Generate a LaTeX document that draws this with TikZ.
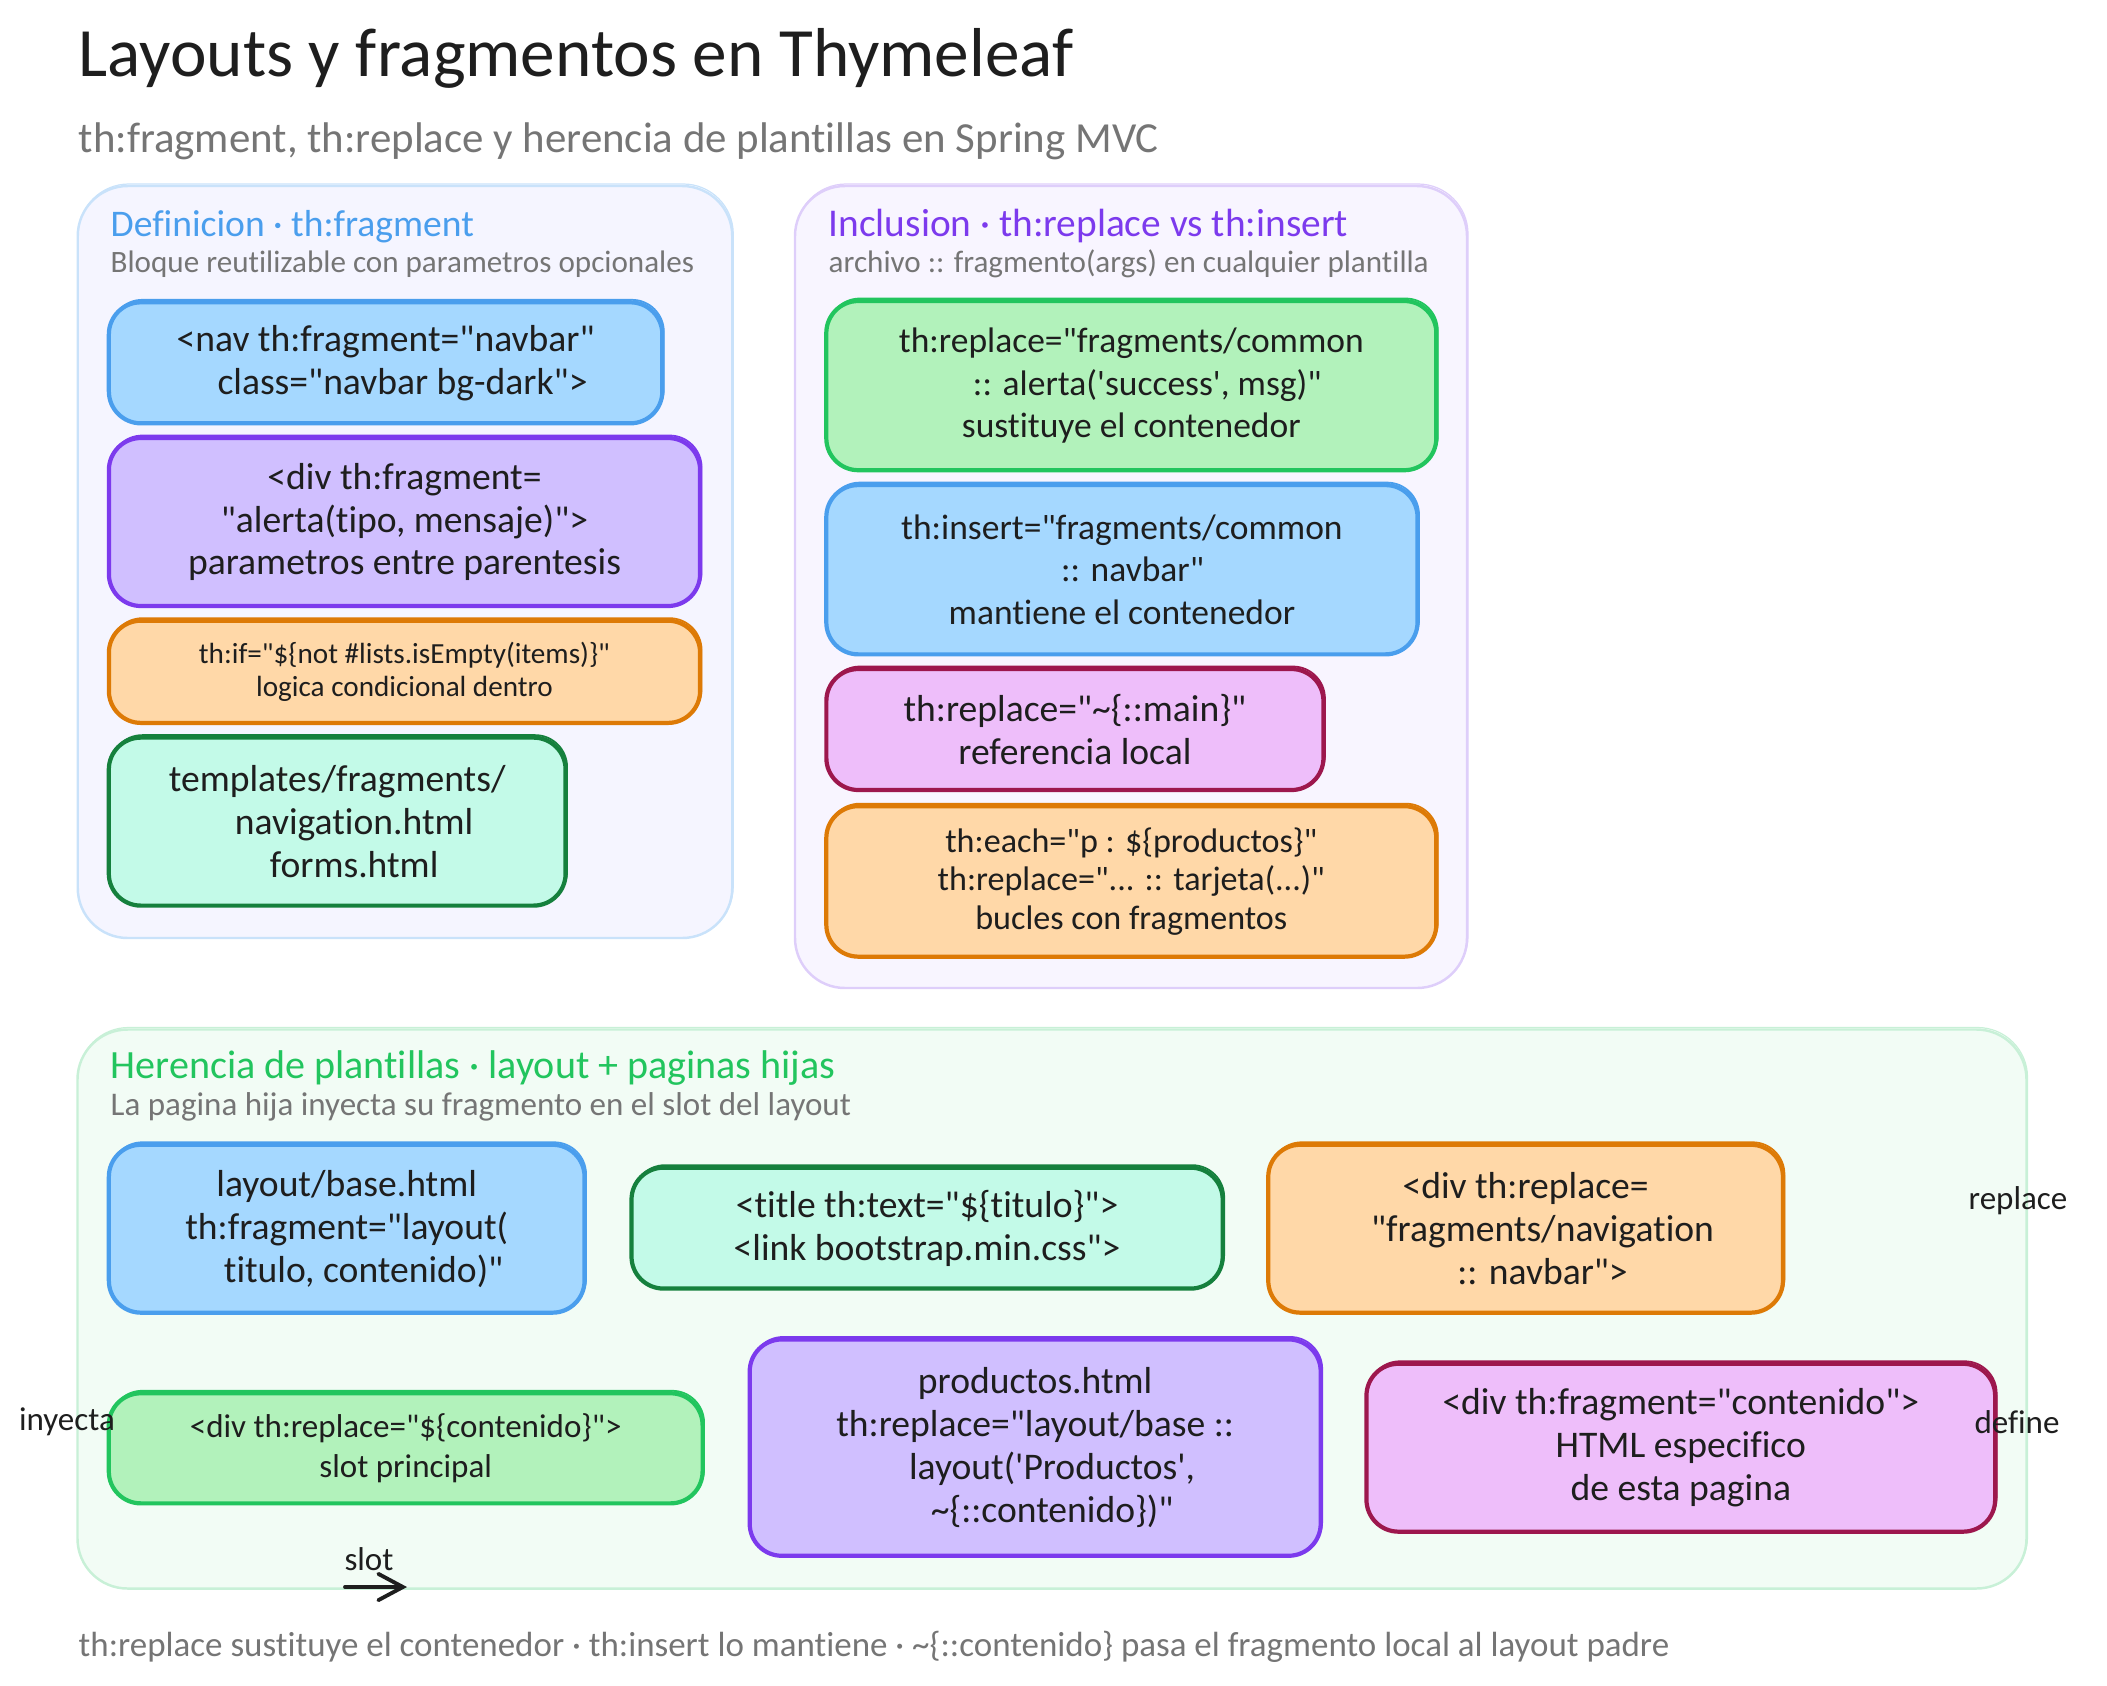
\documentclass[tikz,border=0pt]{standalone}
\usepackage{fontspec}
\usetikzlibrary{arrows.meta}
\setmainfont{Carlito}[Ligatures={TeXOff,NoCommon}]
\definecolor{ink}{HTML}{1E1E1E}
\definecolor{muted}{HTML}{757575}
\definecolor{bluefill}{HTML}{A5D8FF}
\definecolor{bluedraw}{HTML}{4A9EED}
\definecolor{purplefill}{HTML}{D0BFFF}
\definecolor{purpledraw}{HTML}{7C3AED}
\definecolor{orangefill}{HTML}{FFD8A8}
\definecolor{orangedraw}{HTML}{DD7A06}
\definecolor{tealfill}{HTML}{C3FAE8}
\definecolor{tealdraw}{HTML}{15803D}
\definecolor{greenfill}{HTML}{B2F2BB}
\definecolor{greendraw}{HTML}{22C55E}
\definecolor{pinkfill}{HTML}{EEBEFA}
\definecolor{pinkdraw}{HTML}{9D174D}
\begin{document}
\begin{tikzpicture}[
        >={Straight Barb[length=7pt,width=7.5pt,line cap=round]},
        panel/.style={rectangle, rounded corners=.5cm, line width=.7pt, inner sep=0pt,
          preaction={draw, line width=.35pt, transform canvas={shift={(.01,.02)}}}},
        bluepanel/.style={panel, fill=blue!4!white, draw=bluedraw!30},
        purplepanel/.style={panel, fill=purplefill!15, draw=purpledraw!25},
        greenpanel/.style={panel, fill=greendraw!6, draw=greendraw!25},
        codebox/.style={rectangle, rounded corners=.32cm, line width=1.2pt, inner sep=0pt, text=ink, align=center,
          font=\fontsize{10.7}{12.2}\selectfont,
          preaction={draw, line width=.5pt, transform canvas={shift={(.015,.025)}}}},
        bluebox/.style={codebox, fill=bluefill, draw=bluedraw},
        purplebox/.style={codebox, fill=purplefill, draw=purpledraw},
        orangebox/.style={codebox, fill=orangefill, draw=orangedraw},
        tealbox/.style={codebox, fill=tealfill, draw=tealdraw},
        greenbox/.style={codebox, fill=greenfill, draw=greendraw},
        pinkbox/.style={codebox, fill=pinkfill, draw=pinkdraw},
        tiny/.style={font=\fontsize{8.3}{9.2}\selectfont},
        midsize/.style={font=\fontsize{9.7}{11}\selectfont},
        slimsize/.style={font=\fontsize{9.4}{11.6}\selectfont},
        narrowsize/.style={font=\fontsize{10.1}{12.2}\selectfont},
        maintitle/.style={anchor=base west, inner sep=0pt, text=ink, font=\fontsize{19.7}{22}\selectfont},
        subtitle/.style={anchor=base west, inner sep=0pt, text=muted, font=\fontsize{12.2}{14}\selectfont},
        heading/.style={anchor=base west, inner sep=0pt, font=\fontsize{10.7}{12}\selectfont},
        caption/.style={anchor=base west, inner sep=0pt, text=muted, font=\fontsize{8.85}{10}\selectfont},
        linklabel/.style={inner sep=0pt, text=ink, font=\fontsize{9.4}{11}\selectfont},
      ]
      \useasboundingbox (0,0) rectangle (21.07,-16.85);

      %Panels
      \node[bluepanel, minimum width=6.545cm, minimum height=7.52cm]  (defpanel) at (4.05,-5.62)   {};
      \node[purplepanel, minimum width=6.72cm, minimum height=8.02cm] (incpanel) at (11.31,-5.87)  {};
      \node[greenpanel, minimum width=19.49cm, minimum height=5.59cm] (herpanel) at (10.52,-13.09) {};

      %Titles
      \node[maintitle] (title)    at (.78,-.76)  {Layouts y fragmentos en Thymeleaf};
      \node[subtitle]  (subtitle) at (.78,-1.52) {th:fragment, th:replace y herencia de plantillas en Spring MVC};

      \node[heading, text=bluedraw]   (defhead) at (1.10,-2.36)  {Definicion · th:fragment};
      \node[caption]                  (defcap)  at (1.10,-2.72)  {Bloque reutilizable con parametros opcionales};
      \node[heading, font=\fontsize{11.2}{12}\selectfont, text=purpledraw] (inchead) at (8.28,-2.36)  {Inclusion · th:replace vs th:insert};
      \node[caption]                  (inccap)  at (8.28,-2.72)  {archivo :: fragmento(args) en cualquier plantilla};
      \node[heading, font=\fontsize{11.4}{12}\selectfont, text=greendraw]  (herhead) at (1.10,-10.78) {Herencia de plantillas · layout + paginas hijas};
      \node[caption, font=\fontsize{9.4}{10}\selectfont] (hercap)  at (1.10,-11.15) {La pagina hija inyecta su fragmento en el slot del layout};

      %Definicion
      \node[bluebox, minimum width=5.535cm, minimum height=1.21cm]   (navbar) at (3.856,-3.628)
        {<nav th:fragment="navbar"\\\hspace*{.9em}class="navbar bg-dark">};
      \node[purplebox, minimum width=5.912cm, minimum height=1.68cm] (alerta) at (4.045,-5.22)
        {<div th:fragment=\\"alerta(tipo, mensaje)">\\parametros entre parentesis};
      \node[orangebox, tiny, minimum width=5.912cm, minimum height=1.022cm] (cond) at (4.045,-6.718)
        {th:if="\$\{not \#lists.isEmpty(items)\}"\\logica condicional dentro};
      \node[tealbox, minimum width=4.568cm, minimum height=1.68cm]   (files) at (3.372,-8.216)
        {templates/fragments/\\\hspace*{.9em}navigation.html\\\hspace*{.9em}forms.html};

      %Inclusion
      \node[greenbox, narrowsize, minimum width=6.10cm, minimum height=1.692cm]  (replace) at (11.313,-3.856)
        {th:replace="fragments/common\\\hspace*{.9em}:: alerta('success', msg)"\\sustituye el contenedor};
      \node[bluebox, narrowsize, minimum width=5.912cm, minimum height=1.693cm]  (insert) at (11.219,-5.697)
        {th:insert="fragments/common\\\hspace*{.6em}:: navbar"\\mantiene el contenedor};
      \node[pinkbox, minimum width=4.971cm, minimum height=1.21cm]   (local) at (10.749,-7.295)
        {th:replace="\textasciitilde\{::main\}"\\referencia local};
      \node[orangebox, midsize, minimum width=6.10cm, minimum height=1.505cm] (bucles) at (11.313,-8.814)
        {th:each="p : \$\{productos\}"\\th:replace="... :: tarjeta(...)"\\bucles con fragmentos};

      %Herencia
      \node[bluebox, minimum width=4.757cm, minimum height=1.679cm]  (base) at (3.467,-12.287)
        {layout/base.html\\th:fragment="layout(\\\hspace*{.9em}titulo, contenido)"};
      \node[tealbox, minimum width=5.912cm, minimum height=1.209cm]  (head) at (9.271,-12.281)
        {<title th:text="\$\{titulo\}">\\<link bootstrap.min.css">};
      \node[orangebox, minimum width=5.147cm, minimum height=1.679cm] (nav) at (15.256,-12.287)
        {<div th:replace=\\\hspace*{.9em}"fragments/navigation\\\hspace*{.9em}:: navbar">};
      \node[greenbox, slimsize, minimum width=5.938cm, minimum height=1.101cm] (slot) at (4.057,-14.483)
        {<div th:replace="\$\{contenido\}">\\slot principal};
      \node[purplebox, minimum width=5.71cm, minimum height=2.163cm] (productos) at (10.352,-14.476)
        {productos.html\\th:replace="layout/base ::\\\hspace*{.9em}layout('Productos',\\\hspace*{.9em}\textasciitilde\{::contenido\})"};
      \node[pinkbox, minimum width=6.287cm, minimum height=1.679cm]  (contenido) at (16.808,-14.477)
        {<div th:fragment="contenido">\\HTML especifico\\de esta pagina};

      %Lines
      \coordinate (slotstart) at (3.45,-15.87);
      \coordinate (slotend)   at (4.07,-15.87);
      \draw[->, ink, line width=1.1pt, line cap=round] (slotstart) -- (slotend);

      %Labels
      \node[linklabel] (replacelabel) at (20.18,-12.01) {replace};
      \node[linklabel] (definelabel)  at (20.17,-14.22) {define};
      \node[linklabel] (inyectalabel) at (.67,-14.22)   {inyecta};
      \node[linklabel] (slotlabel)    at (3.69,-15.59)  {slot};

      \node[caption, font=\fontsize{9.95}{11}\selectfont] (footer) at (.78,-16.56)
        {th:replace sustituye el contenedor · th:insert lo mantiene · \textasciitilde\{::contenido\} pasa el fragmento local al layout padre};
    \end{tikzpicture}
\end{document}
